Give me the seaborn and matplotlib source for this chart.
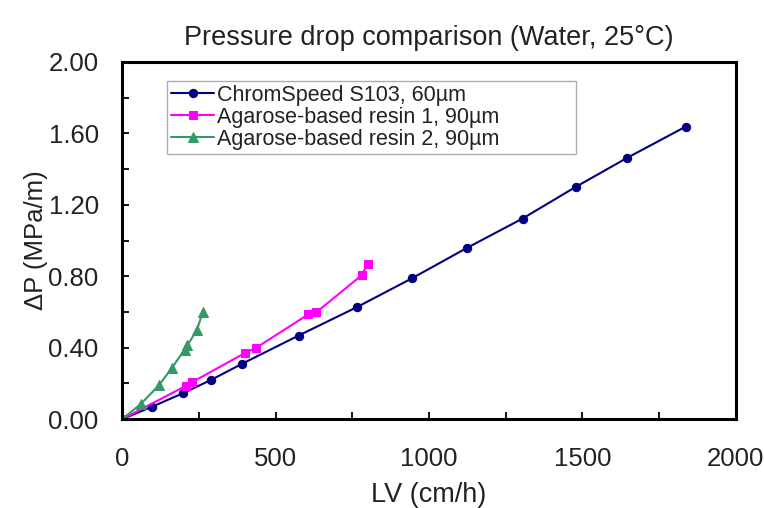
import seaborn as sns
import matplotlib.pyplot as plt
import pandas as pd
from matplotlib.ticker import MultipleLocator, FormatStrFormatter

# Datos
lv_chrom = [0, 97, 198, 289, 391, 575, 765, 944, 1123, 1305, 1478, 1647, 1837]
dp_chrom = [0, 0.069, 0.145, 0.219, 0.310, 0.468, 0.627, 0.788, 0.958, 1.123, 1.300, 1.464, 1.638]

lv_res1 = [0, 207, 228, 400, 437, 607, 632, 780, 800]
dp_res1 = [0, 0.186, 0.207, 0.370, 0.400, 0.587, 0.597, 0.805, 0.868]

lv_res2 = [0, 62, 120, 162, 203, 212, 243, 262]
dp_res2 = [0, 0.087, 0.190, 0.287, 0.388, 0.413, 0.497, 0.597]

series = [
    ('ChromSpeed S103, 60µm', lv_chrom, dp_chrom, '#000080', 'o', 6),
    ('Agarose-based resin 1, 90µm', lv_res1, dp_res1, '#FF00FF', 's', 6),
    ('Agarose-based resin 2, 90µm', lv_res2, dp_res2, '#339966', '^', 7),
]

sns.set_style('ticks')
plt.rcParams['font.family'] = ['Liberation Sans', 'DejaVu Sans']

fig = plt.figure(figsize=(7.64, 5.08), dpi=100)
ax = fig.add_axes([0.160, 0.175, 0.803, 0.703])

for nombre, x, y, color, marcador, tam in series:
    df = pd.DataFrame({'LV': x, 'dP': y})
    sns.lineplot(data=df, x='LV', y='dP', ax=ax, sort=False,
                 color=color, marker=marcador, markersize=tam,
                 markeredgecolor=color, linewidth=1.5, label=nombre)

ax.set_xlim(0, 2000)
ax.set_ylim(0, 2.0)
ax.xaxis.set_major_locator(MultipleLocator(500))
ax.xaxis.set_minor_locator(MultipleLocator(250))
ax.yaxis.set_major_locator(MultipleLocator(0.4))
ax.yaxis.set_minor_locator(MultipleLocator(0.2))
ax.yaxis.set_major_formatter(FormatStrFormatter('%.2f'))
ax.tick_params(which='both', direction='in', length=5, width=1.3,
               colors='black', bottom=True, left=True, top=False, right=False)
ax.tick_params(which='major', labelsize=18.5, labelcolor='#222222')
ax.tick_params(axis='x', which='major', pad=20)
ax.tick_params(axis='y', which='major', pad=17)
for s in ax.spines.values():
    s.set_linewidth(2.2)
    s.set_color('black')

ax.set_title('Pressure drop comparison (Water, 25°C)', fontsize=19.5, pad=12,
             color='#222222')
ax.set_xlabel('LV (cm/h)', fontsize=19.5, labelpad=8, color='#222222')
ax.set_ylabel('ΔP (MPa/m)', fontsize=18.5, labelpad=0, color='#222222')

leg = ax.legend(loc='upper left', bbox_to_anchor=(0.073, 0.0, 0.666, 0.948),
                mode='expand', fontsize=15.5, frameon=True, fancybox=False,
                handlelength=2.0, handletextpad=0.1, borderpad=0.2,
                labelspacing=0.05, borderaxespad=0)
leg.get_frame().set_edgecolor('#999999')
leg.get_frame().set_linewidth(1)
for t in leg.get_texts():
    t.set_color('#222222')

fig.savefig('out.png', dpi=100)
